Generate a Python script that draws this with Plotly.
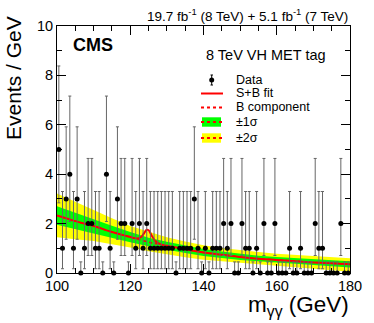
import numpy as np
import plotly.graph_objects as go

# events per 1 GeV bin, 100-180 GeV
bin_lo = 100
bin_hi = 180
counts = [5, 1, 3, 4, 1, 3, 0, 1, 2, 2,
          1, 1, 0, 4, 1, 0, 3, 2, 2, 0,
          2, 1, 2, 1, 2, 1, 1, 1, 1, 1,
          1, 1, 0, 1, 1, 1, 1, 3, 1, 0,
          1, 0, 1, 1, 1, 2, 1, 2, 0, 0,
          2, 1, 1, 0, 1, 0, 2, 0, 0, 2,
          0, 0, 0, 1, 0, 0, 1, 0, 0, 0,
          2, 1, 1, 0, 0, 0, 0, 2, 0, 0]

# poisson interval (low, high) per count as drawn
poisson_lo = {0: 0.0, 1: 0.173, 2: 0.708, 3: 1.367, 4: 2.086, 5: 2.840}
poisson_hi = {0: 0.45, 1: 3.300, 2: 4.638, 3: 5.918, 4: 7.163, 5: 8.382}

# background fit and uncertainty bands
bkg_mass = [100, 105, 110, 115, 120, 125, 130, 135, 140, 145, 150, 155, 160, 165, 170, 175, 180]
bkg_vals = [2.33, 2.10, 1.90, 1.66, 1.45, 1.25, 1.10, 0.96, 0.83, 0.74, 0.65, 0.58, 0.53, 0.48, 0.43, 0.39, 0.35]
green_lo = [1.95, 1.78, 1.62, 1.43, 1.25, 1.08, 0.94, 0.81, 0.69, 0.61, 0.53, 0.46, 0.41, 0.36, 0.31, 0.27, 0.22]
green_hi = [2.70, 2.43, 2.19, 1.91, 1.66, 1.43, 1.27, 1.11, 0.97, 0.87, 0.78, 0.70, 0.65, 0.60, 0.56, 0.52, 0.48]
yellow_lo = [1.45, 1.37, 1.30, 1.15, 1.03, 0.88, 0.75, 0.64, 0.54, 0.46, 0.39, 0.33, 0.28, 0.22, 0.17, 0.11, 0.05]
yellow_hi = [3.22, 2.88, 2.55, 2.22, 1.90, 1.66, 1.45, 1.28, 1.12, 1.01, 0.92, 0.85, 0.78, 0.74, 0.70, 0.65, 0.60]

# signal + background fit
sb_mass = [100, 105, 110, 115, 119, 121, 122, 123, 123.5, 124, 124.5, 125, 125.5, 126, 126.5, 127, 128,
           130, 135, 140, 145, 150, 155, 160, 165, 170, 175, 180]
sb_vals = [2.33, 2.10, 1.90, 1.66, 1.50, 1.42, 1.40, 1.46, 1.55, 1.66, 1.75, 1.73, 1.62, 1.48, 1.36, 1.27, 1.18,
           1.10, 0.96, 0.83, 0.74, 0.65, 0.58, 0.53, 0.48, 0.43, 0.39, 0.35]

FONT = "Liberation Sans"
W, H = 374, 323
L, R, T, B = 57, 350, 26, 273


def px(x):
    return (x - L) / (R - L)


def py(y):
    return (B - y) / (B - T)


fig = go.Figure()

# bandas
fig.add_trace(go.Scatter(x=bkg_mass + bkg_mass[::-1], y=yellow_hi + yellow_lo[::-1], fill="toself",
                         fillcolor="#ffff00", line=dict(width=0), mode="lines", hoverinfo="skip"))
fig.add_trace(go.Scatter(x=bkg_mass + bkg_mass[::-1], y=green_hi + green_lo[::-1], fill="toself",
                         fillcolor="#00ff00", line=dict(width=0), mode="lines", hoverinfo="skip"))
fig.add_trace(go.Scatter(x=bkg_mass, y=bkg_vals, mode="lines",
                         line=dict(color="#ff0000", width=1.5, dash="dot", shape="spline")))
fig.add_trace(go.Scatter(x=sb_mass, y=sb_vals, mode="lines",
                         line=dict(color="#ff0000", width=2, shape="spline")))

centers = np.arange(bin_lo, bin_hi) + 0.5
cnt = np.array(counts, dtype=float)
up = np.array([poisson_hi[c] for c in counts]) - cnt
dn = cnt - np.array([poisson_lo[c] for c in counts])
fig.add_trace(go.Scatter(
    x=centers, y=cnt, mode="markers",
    marker=dict(color="black", size=5),
    error_y=dict(type="data", symmetric=False, array=up, arrayminus=dn,
                 color="#666666", thickness=1, width=1.5),
    cliponaxis=False,
))

ax = dict(showline=True, linecolor="black", linewidth=1, mirror="allticks", ticks="inside",
          ticklen=9, tickcolor="black", showgrid=False, zeroline=False,
          tickfont=dict(family=FONT, size=14.5, color="black"))

fig.update_xaxes(range=[bin_lo, bin_hi], dtick=20, tick0=100,
                 minor=dict(dtick=5, ticks="inside", ticklen=5, tickcolor="black", showgrid=False), **ax)
fig.update_yaxes(range=[0, 10], dtick=2, tick0=0,
                 minor=dict(dtick=1, ticks="inside", ticklen=5, tickcolor="black", showgrid=False), **ax)

fig.update_layout(
    width=W, height=H,
    margin=dict(l=L, r=W - R, t=T, b=H - B),
    plot_bgcolor="white", paper_bgcolor="white",
    showlegend=False,
    font=dict(family=FONT, color="black"),
)

# textos
fig.add_annotation(xref="paper", yref="paper", x=px(350), y=py(15), xanchor="right", yanchor="middle",
                   text="19.7 fb<sup>-1</sup> (8 TeV) + 5.1 fb<sup>-1</sup> (7 TeV)",
                   showarrow=False, font=dict(size=13.5))
fig.add_annotation(xref="paper", yref="paper", x=px(71), y=py(45), xanchor="left", yanchor="middle",
                   text="<b>CMS</b>", showarrow=False, font=dict(size=18))
fig.add_annotation(xref="paper", yref="paper", x=px(204), y=py(55), xanchor="left", yanchor="middle",
                   text="8 TeV VH MET tag", showarrow=False, font=dict(size=14.5))
fig.add_annotation(xref="paper", yref="paper", x=px(13), y=py(78), xanchor="center", yanchor="middle",
                   text="Events / GeV", textangle=-90, showarrow=False, font=dict(size=21))
fig.add_annotation(xref="paper", yref="paper", x=px(351), y=py(306), xanchor="right", yanchor="middle",
                   text="m<sub>γγ</sub> (GeV)", showarrow=False, font=dict(size=22.5))

# leyenda
leg_x0, leg_x1, leg_tx = 201, 223, 234
leg_y = [80, 93.5, 107.5, 122, 138]
leg_txt = ["Data", "S+B fit", "B component", "±1σ", "±2σ"]
for yy, tt in zip(leg_y, leg_txt):
    fig.add_annotation(xref="paper", yref="paper", x=px(leg_tx), y=py(yy), xanchor="left", yanchor="middle",
                       text=tt, showarrow=False, font=dict(size=12.5))

xm = px(211.7)
fig.add_shape(type="line", xref="paper", yref="paper", x0=xm, x1=xm, y0=py(75), y1=py(85),
              line=dict(color="black", width=1))
for yy in (75, 85):
    fig.add_shape(type="line", xref="paper", yref="paper", x0=px(210.5), x1=px(213), y0=py(yy), y1=py(yy),
                  line=dict(color="black", width=1))
fig.add_shape(type="circle", xref="paper", yref="paper", x0=px(209.2), x1=px(214.2), y0=py(77.5), y1=py(82.5),
              fillcolor="black", line=dict(color="black", width=0))

fig.add_shape(type="line", xref="paper", yref="paper", x0=px(leg_x0), x1=px(leg_x1), y0=py(93.5), y1=py(93.5),
              line=dict(color="#ff0000", width=2))
fig.add_shape(type="line", xref="paper", yref="paper", x0=px(leg_x0), x1=px(leg_x1), y0=py(107.5), y1=py(107.5),
              line=dict(color="#ff0000", width=2, dash="dot"))
for yy, col in ((122, "#00ff00"), (138, "#ffff00")):
    fig.add_shape(type="rect", xref="paper", yref="paper", x0=px(202), x1=px(221), y0=py(yy - 4.7), y1=py(yy + 4.7),
                  fillcolor=col, line=dict(width=0))
    fig.add_shape(type="line", xref="paper", yref="paper", x0=px(leg_x0), x1=px(leg_x1), y0=py(yy), y1=py(yy),
                  line=dict(color="#ff0000", width=2, dash="dot"))

# quitar el margen del body para que la figura quede en (0, 0)
fig.write_html("out.html", config={"displayModeBar": False},
               post_script="document.body.style.margin='0px';")
